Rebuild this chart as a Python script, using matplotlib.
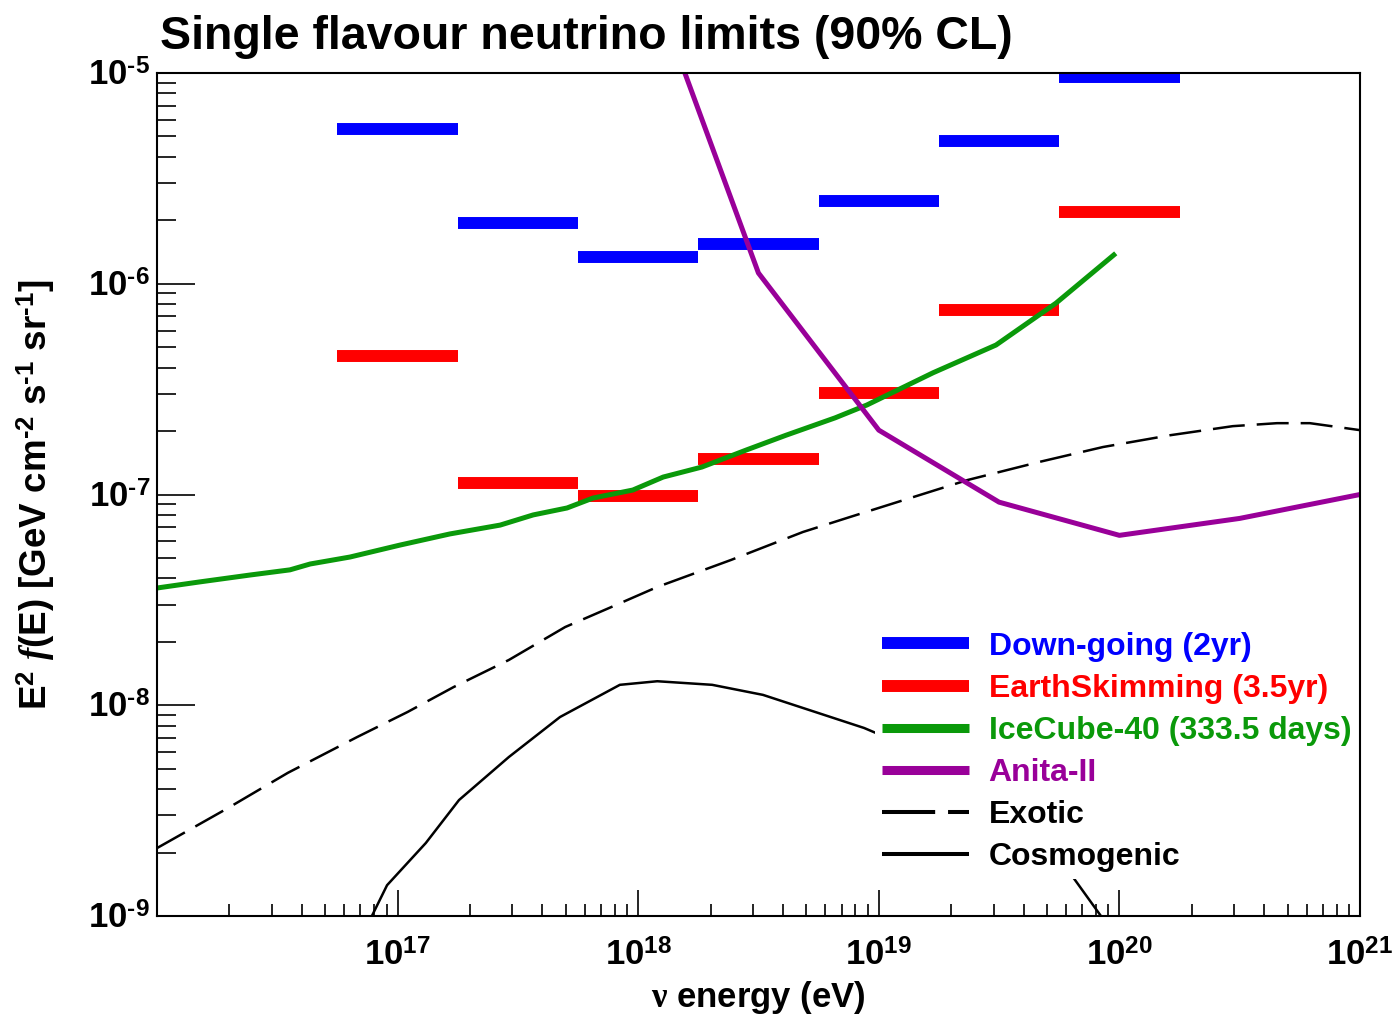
import numpy as np
import matplotlib
matplotlib.use("Agg")
import matplotlib.pyplot as plt
from matplotlib.lines import Line2D
from matplotlib.ticker import LogLocator, NullFormatter, FixedLocator, FixedFormatter

plt.rcParams['font.family'] = ['Liberation Sans', 'DejaVu Sans']
plt.rcParams['font.weight'] = 'bold'
plt.rcParams['mathtext.fontset'] = 'custom'
plt.rcParams['mathtext.rm'] = 'Liberation Sans:bold'
plt.rcParams['mathtext.bf'] = 'Liberation Sans:bold'
plt.rcParams['mathtext.it'] = 'Liberation Serif:italic'
plt.rcParams['mathtext.sf'] = 'Liberation Serif'

# half-decade energy bins (eV) of the differential limits
bin_edges = [5.62e16, 1.78e17, 5.62e17, 1.78e18, 5.62e18, 1.78e19, 5.62e19, 1.78e20]
downgoing = [5.4e-6, 1.94e-6, 1.34e-6, 1.55e-6, 2.48e-6, 4.75e-6, 9.6e-6]
earthskim = [4.54e-7, 1.14e-7, 9.84e-8, 1.48e-7, 3.02e-7, 7.5e-7, 2.2e-6]

# IceCube-40 (333.5 days)
ic40_e = [1e16, 1.51e16, 2.44e16, 3.57e16, 4.33e16, 6.34e16, 1.02e17, 1.65e17,
          2.67e17, 3.66e17, 5.06e17, 6.49e17, 9.5e17, 1.27e18, 1.84e18, 2.83e18,
          4.11e18, 6.58e18, 8.93e18, 1.68e19, 3.07e19, 5.45e19, 9.48e19]
ic40_f = [3.60e-8, 3.85e-8, 4.15e-8, 4.39e-8, 4.68e-8, 5.05e-8, 5.75e-8, 6.50e-8,
          7.16e-8, 8.0e-8, 8.63e-8, 9.62e-8, 1.05e-7, 1.21e-7, 1.35e-7, 1.63e-7,
          1.91e-7, 2.31e-7, 2.66e-7, 3.78e-7, 5.12e-7, 8.09e-7, 1.37e-6]

# Anita-II
anita_e = [1e18, 3.16e18, 1e19, 3.16e19, 1e20, 3.16e20, 1e21]
anita_f = [4.0e-5, 1.125e-6, 2.02e-7, 9.2e-8, 6.4e-8, 7.7e-8, 1.0e-7]

# model fluxes
exotic_e = [1e16, 1.97e16, 3.50e16, 6.78e16, 1.10e17, 1.71e17, 2.90e17, 4.97e17,
            7.71e17, 1.20e18, 2.43e18, 4.84e18, 7.59e18, 1.35e19, 2.33e19, 4.68e19,
            8.55e19, 1.62e20, 2.96e20, 4.52e20, 6.19e20, 1e21]
exotic_f = [2.10e-9, 3.25e-9, 4.78e-9, 7.06e-9, 9.29e-9, 1.22e-8, 1.64e-8, 2.35e-8,
            2.92e-8, 3.64e-8, 4.89e-8, 6.64e-8, 7.82e-8, 9.62e-8, 1.17e-7, 1.43e-7,
            1.68e-7, 1.91e-7, 2.11e-7, 2.18e-7, 2.18e-7, 2.02e-7]
cosmo_e = [6.98e16, 9.04e16, 1.31e17, 1.80e17, 2.90e17, 4.73e17, 8.39e17, 1.20e18,
           2.03e18, 3.30e18, 8.69e18, 1.79e19, 3.19e19, 4.68e19, 6.41e19, 8.38e19, 9.59e19]
cosmo_f = [7.69e-10, 1.40e-9, 2.22e-9, 3.55e-9, 5.68e-9, 8.79e-9, 1.25e-8, 1.30e-8,
           1.25e-8, 1.12e-8, 7.80e-9, 5.50e-9, 3.75e-9, 2.56e-9, 1.53e-9, 1.0e-9, 7.69e-10]

x_ticks = [1e17, 1e18, 1e19, 1e20, 1e21]
x_ticklabels = [r'$10^{17}$', r'$10^{18}$', r'$10^{19}$', r'$10^{20}$', r'$10^{21}$']
y_ticks = [1e-9, 1e-8, 1e-7, 1e-6, 1e-5]
y_ticklabels = [r'$10^{\text{-9}}$', r'$10^{\text{-8}}$', r'$10^{\text{-7}}$',
                r'$10^{\text{-6}}$', r'$10^{\text{-5}}$']

BLUE = '#0000ff'
RED = '#ff0000'
GREEN = '#0a990a'
PURPLE = '#990099'

fig = plt.figure(figsize=(13.98, 10.17), dpi=100)
ax = fig.add_axes([157/1398, 1 - 916/1017, 1203/1398, 843/1017])

ax.hlines(downgoing, bin_edges[:-1], bin_edges[1:], colors=BLUE, lw=8.6, zorder=2)
ax.hlines(earthskim, bin_edges[:-1], bin_edges[1:], colors=RED, lw=8.6, zorder=2)
ax.plot(exotic_e, exotic_f, color='black', lw=1.8, linestyle=(0, (12.8, 4.8)), zorder=3)
ax.plot(cosmo_e, cosmo_f, color='black', lw=1.8, zorder=3)
ax.plot(ic40_e, ic40_f, color=GREEN, lw=3.6, zorder=4)
ax.plot(anita_e, anita_f, color=PURPLE, lw=3.6, zorder=5)

ax.set_xscale('log')
ax.set_yscale('log')
ax.set_xlim(1e16, 1e21)
ax.set_ylim(1e-9, 1e-5)

ax.xaxis.set_major_locator(FixedLocator(x_ticks))
ax.xaxis.set_major_formatter(FixedFormatter(x_ticklabels))
ax.yaxis.set_major_locator(FixedLocator(y_ticks))
ax.yaxis.set_major_formatter(FixedFormatter(y_ticklabels))
for a in (ax.xaxis, ax.yaxis):
    a.set_minor_locator(LogLocator(base=10, subs=np.arange(2, 10), numticks=20))
    a.set_minor_formatter(NullFormatter())
    a.set_zorder(11)

ax.tick_params(which='both', direction='in', top=False, right=False, width=1.2,
               colors='black', labelsize=25)
ax.tick_params(axis='x', which='major', length=19, pad=17)
ax.tick_params(axis='x', which='minor', length=9)
ax.tick_params(axis='y', which='major', length=27, pad=5)
ax.tick_params(axis='y', which='minor', length=14)
for s in ax.spines.values():
    s.set_linewidth(1.5)
    s.set_zorder(12)

ax.set_xlabel(r'$\mathsf{\nu}$ energy (eV)', fontsize=25, fontweight='bold')
ax.xaxis.set_label_coords(0.5, -0.075)
ax.set_ylabel(r'E$^{2}$ $f$(E) [GeV cm$^{\text{-2}}$ s$^{\text{-1}}$ sr$^{\text{-1}}$]',
              fontsize=26.5, fontweight='bold')
ax.yaxis.set_label_coords(-0.083, 0.5)

fig.text(160/1398, 1 - 49/1017, 'Single flavour neutrino limits (90% CL)',
         fontsize=33.5, fontweight='bold', ha='left', va='baseline')

handles = [
    Line2D([], [], color=BLUE, lw=8.6, solid_capstyle='butt'),
    Line2D([], [], color=RED, lw=8.6, solid_capstyle='butt'),
    Line2D([], [], color=GREEN, lw=6.5, solid_capstyle='butt'),
    Line2D([], [], color=PURPLE, lw=6.5, solid_capstyle='butt'),
    Line2D([], [], color='black', lw=2.9, linestyle=(0, (13.2, 3.2))),
    Line2D([], [], color='black', lw=2.9, solid_capstyle='butt'),
]
labels = ['Down-going (2yr)', 'EarthSkimming (3.5yr)', 'IceCube-40 (333.5 days)',
          'Anita-II', 'Exotic', 'Cosmogenic']
leg = ax.legend(handles, labels, loc='upper left', bbox_to_anchor=(0.597, 0.345),
                borderaxespad=0, frameon=True, fancybox=False, framealpha=1,
                facecolor='white', edgecolor='none', fontsize=23,
                handlelength=2.75, handletextpad=0.6, labelspacing=0.38,
                borderpad=0.2,
                labelcolor=[BLUE, RED, GREEN, PURPLE, 'black', 'black'])
leg.set_zorder(10)

fig.savefig('out.png', dpi=100)
